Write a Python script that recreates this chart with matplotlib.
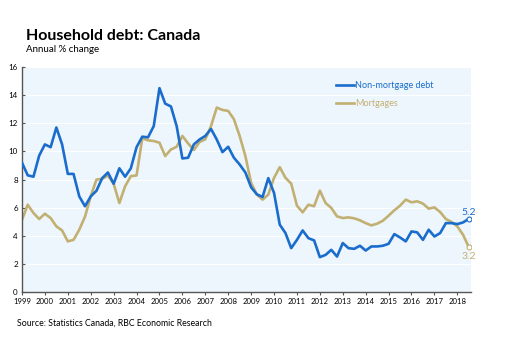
import numpy as np
import matplotlib.pyplot as plt

# quarterly annual % change, 1999Q1 - 2018Q3
start_year = 1999
non_mortgage = [9.2, 8.3, 8.2, 9.7, 10.5, 10.3, 11.7, 10.5,
                8.4, 8.4, 6.8, 6.1, 6.8, 7.2, 8.1, 8.5,
                7.7, 8.8, 8.2, 8.8, 10.3, 11.05, 11.0, 11.8,
                14.5, 13.4, 13.2, 11.8, 9.5, 9.55, 10.5, 10.85,
                11.1, 11.6, 10.85, 9.95, 10.33, 9.55, 9.07, 8.5,
                7.45, 6.95, 6.76, 8.1, 7.05, 4.79, 4.19, 3.12,
                3.71, 4.38, 3.83, 3.67, 2.48, 2.64, 3.0, 2.52,
                3.48, 3.12, 3.07, 3.29, 2.95, 3.24, 3.24, 3.29,
                3.43, 4.12, 3.88, 3.6, 4.31, 4.24, 3.71, 4.43,
                3.95, 4.19, 4.9, 4.9, 4.83, 4.95, 5.2]
mortgages = [5.14, 6.21, 5.62, 5.19, 5.57, 5.26, 4.67, 4.38,
             3.6, 3.71, 4.43, 5.36, 6.8, 8.0, 8.05, 8.29,
             7.7, 6.33, 7.52, 8.24, 8.29, 10.93, 10.79, 10.74,
             10.62, 9.67, 10.14, 10.33, 11.1, 10.57, 10.1, 10.67,
             10.86, 11.8, 13.12, 12.95, 12.88, 12.29, 11.1, 9.67,
             7.76, 6.93, 6.57, 6.93, 8.12, 8.88, 8.12, 7.71,
             6.14, 5.67, 6.21, 6.1, 7.21, 6.33, 5.98, 5.38,
             5.26, 5.31, 5.24, 5.1, 4.9, 4.74, 4.86, 5.07,
             5.43, 5.81, 6.14, 6.57, 6.38, 6.45, 6.29, 5.93,
             6.02, 5.69, 5.19, 4.98, 4.67, 4.07, 3.2]
year_ticks = list(range(1999, 2019))
y_ticks = list(range(0, 17, 2))

blue = '#1a6dcc'
gold = '#c2b072'
font = ['Lato', 'DejaVu Sans']
plt.rcParams['font.family'] = font

t = start_year + np.arange(len(non_mortgage)) / 4

fig = plt.figure(figsize=(5.15, 3.45), dpi=100)
ax = fig.add_axes([0.0427, 0.1536, 0.872, 0.652])
ax.set_facecolor('#eef6fd')

for y in y_ticks[1:]:
    ax.axhline(y, color='white', lw=0.8, zorder=1)

ax.plot(t, non_mortgage, color=blue, lw=1.9, label='Non-mortgage debt', zorder=3)
ax.plot(t, mortgages, color=gold, lw=1.9, label='Mortgages', zorder=2)
ax.plot(t[-1], non_mortgage[-1], 'o', ms=3.5, mfc='white', mec=blue, mew=0.8, zorder=4)
ax.plot(t[-1], mortgages[-1], 'o', ms=3.5, mfc='white', mec=gold, mew=0.8, zorder=4)
ax.text(t[-1], non_mortgage[-1] + 0.15, f'{non_mortgage[-1]:.1f}', color=blue,
        fontsize=7.5, ha='center', va='bottom')
ax.text(t[-1], mortgages[-1] - 0.35, f'{mortgages[-1]:.1f}', color=gold,
        fontsize=7.5, ha='center', va='top')

ax.set_xlim(1999, 2018.6)
ax.set_ylim(0, 16)
ax.set_xticks(year_ticks)
ax.set_xticklabels([str(y) for y in year_ticks], fontsize=5.6)
ax.set_yticks(y_ticks)
ax.set_yticklabels([str(y) for y in y_ticks], fontsize=5.8)
ax.tick_params(axis='x', direction='out', length=2, width=0.8, color='#555555', pad=2)
ax.tick_params(axis='y', direction='in', length=2, width=0.8, color='#555555', pad=3)
for s in ['top', 'right']:
    ax.spines[s].set_visible(False)
for s in ['left', 'bottom']:
    ax.spines[s].set_color('#555555')
    ax.spines[s].set_linewidth(1.0)

leg = ax.legend(loc='upper left', bbox_to_anchor=(0.682, 0.975), frameon=False,
                fontsize=6.5, handlelength=2.0, handletextpad=0.1,
                labelspacing=1.05, labelcolor='linecolor')

fig.text(0.05, 0.885, 'Household debt: Canada', fontsize=11.5, fontweight='bold')
fig.text(0.05, 0.848, 'Annual % change', fontsize=7)
fig.text(0.033, 0.055, 'Source: Statistics Canada, RBC Economic Research', fontsize=6.3)

fig.savefig('out.png', dpi=100)
